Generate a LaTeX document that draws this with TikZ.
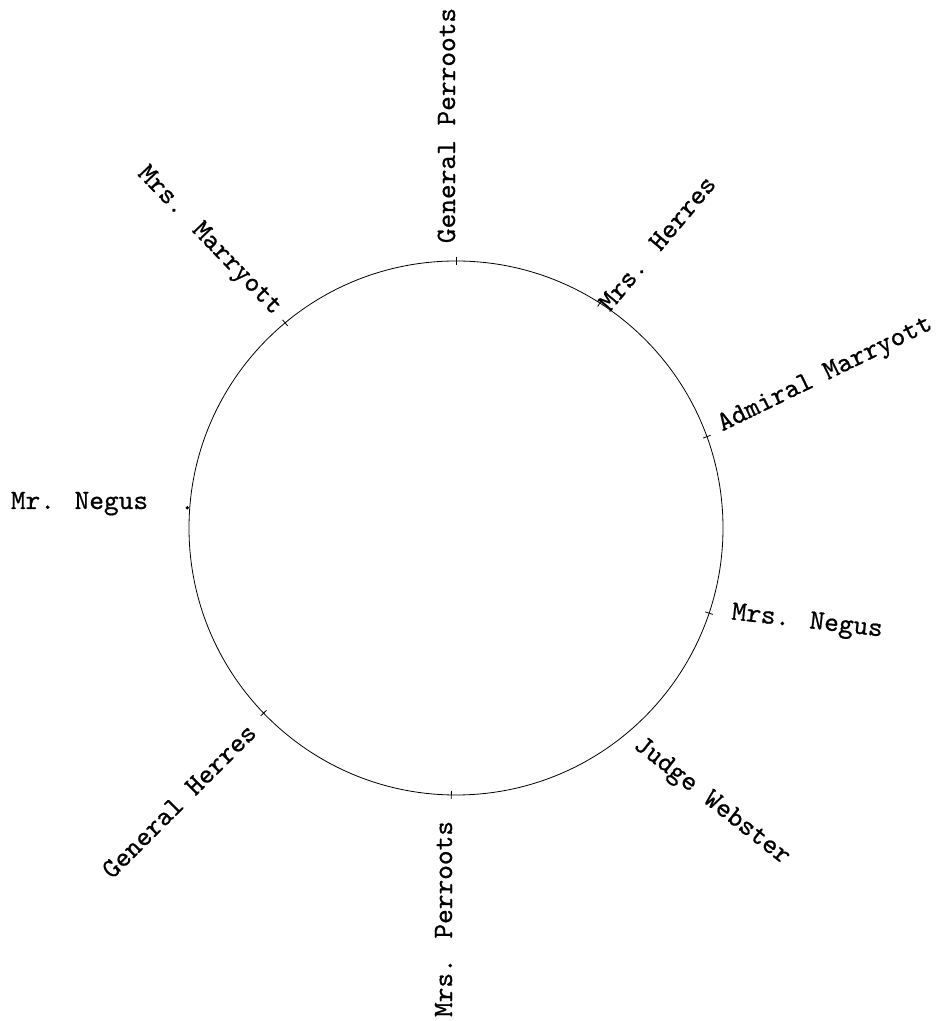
\documentclass[tikz,border=0pt]{standalone}
\usepackage{fontspec}
\newfontfamily\typewr{lmmono10-regular.otf}[FakeBold=0.7]
\usetikzlibrary{calc}
\begin{document}
\begin{tikzpicture}[x=1pt,y=1pt,
  lbl/.style={font=\fontsize{28}{30}\selectfont\typewr, inner sep=0pt, anchor=base},
  rim/.style={line width=0.8pt, black},
  tickmark/.style={line width=0.8pt, black}]
\useasboundingbox (0,0) rectangle (939,1021);
\coordinate (c) at (456,493);
\draw[rim] (c) circle (267);
% labels
\node[lbl, rotate=90]   (gp)  at (455,895.5) {General Perroots};
\node[lbl, rotate=50]   (mh)  at (663.5,772.5) {Mrs. Herres};
\node[lbl, rotate=26]   (am)  at (828,641) {Admiral Marryott};
\node[lbl, rotate=-6.5] (mrsn) at (806.5,393) {Mrs. Negus};
\node[lbl, rotate=-38]  (jw)  at (708,215) {Judge Webster};
\node[lbl, rotate=90]   (mp)  at (452,102) {Mrs. Perroots};
\node[lbl, rotate=45]   (gh)  at (185,214) {General Herres};
\node[lbl]              (mn)  at (79.5,512) {Mr. Negus};
\node[lbl, rotate=-46]  (mm)  at (205,776) {Mrs. Marryott};
% small marks on the rim
\foreach \a in {90,57.4,20,-18.6,-91,223.9,129.8}{
  \draw[tickmark] ($(c)+(\a:263)$) -- ($(c)+(\a:271)$);
}
\fill ($(c)+(175.7:269.5)$) circle (1.8);
\end{tikzpicture}
\end{document}
